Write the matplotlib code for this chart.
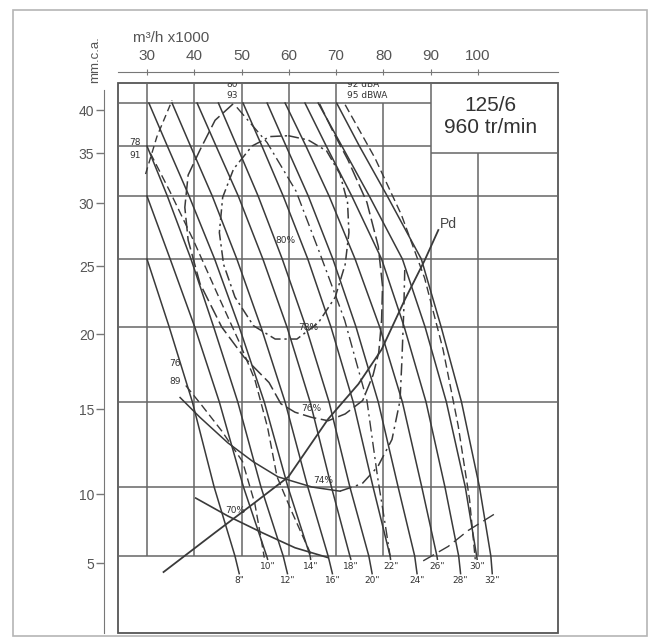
import numpy as np
import matplotlib
matplotlib.use("Agg")
import matplotlib.pyplot as plt
from matplotlib.patches import Rectangle
from matplotlib.ticker import NullLocator

plt.rcParams['font.family'] = ['Liberation Sans', 'DejaVu Sans']

# ---- values ----
# flow in 1000 m3/h, pressure in mm.c.a.
flow_ticks = [30, 40, 50, 60, 70, 80, 90, 100]
press_ticks = [5, 10, 15, 20, 25, 30, 35, 40]

# blade angle curves
blade_labels = ['8"', '10"', '12"', '14"', '16"', '18"', '20"', '22"', '24"', '26"', '28"', '30"', '32"']
blade_q = [
    [30.0, 34.7, 39.6, 44.2, 48.6, 49.5],
    [30.0, 34.9, 40.1, 45.3, 50.4, 55.3, 55.5],
    [30.0, 34.3, 39.3, 44.1, 49.2, 54.1, 58.8, 59.7],
    [30.4, 34.3, 38.9, 44.3, 49.5, 54.8, 59.8, 64.5, 64.6],
    [35.3, 39.2, 43.8, 49.0, 54.1, 59.2, 64.0, 68.3, 69.2],
    [40.6, 44.6, 49.3, 54.5, 59.6, 64.5, 69.0, 72.9, 73.1],
    [45.1, 49.0, 53.5, 58.6, 63.6, 68.5, 72.9, 76.9, 77.6],
    [50.3, 54.3, 58.8, 64.0, 68.9, 73.6, 77.8, 81.4, 81.5],
    [55.4, 59.4, 64.1, 69.3, 74.2, 78.9, 83.1, 86.6, 87.1],
    [59.2, 63.6, 68.5, 74.0, 79.2, 84.0, 88.1, 91.3, 91.4],
    [63.4, 67.9, 73.3, 79.6, 84.4, 89.0, 93.0, 95.9, 96.3],
    [66.2, 71.2, 77.0, 84.0, 88.8, 93.3, 97.3, 99.7, 99.8],
    [70.1, 74.9, 80.8, 88.0, 92.2, 96.5, 100.3, 102.7, 103.0],
]
blade_p = [
    [25, 20, 15, 10, 5, 3.9],
    [30, 25, 20, 15, 10, 5, 4.8],
    [35, 30, 25, 20, 15, 10, 5, 3.9],
    [40, 35, 30, 25, 20, 15, 10, 5, 4.8],
    [40, 35, 30, 25, 20, 15, 10, 5, 3.9],
    [40, 35, 30, 25, 20, 15, 10, 5, 4.8],
    [40, 35, 30, 25, 20, 15, 10, 5, 3.9],
    [40, 35, 30, 25, 20, 15, 10, 5, 4.8],
    [40, 35, 30, 25, 20, 15, 10, 5, 3.9],
    [40, 35, 30, 25, 20, 15, 10, 5, 4.8],
    [40, 35, 30, 25, 20, 15, 10, 5, 3.9],
    [40, 35, 30, 25, 20, 15, 10, 5, 4.8],
    [40, 35, 30, 25, 20, 15, 10, 5, 3.9],
]

# efficiency curves
eff78_q = [59.9, 64.1, 68.0, 70.8, 72.4, 72.7, 71.9, 69.8, 66.2, 61.7, 57.1, 52.5, 48.6, 46.2, 45.3, 46.0, 48.3, 52.2, 56.0, 59.9]
eff78_p = [36.2, 35.7, 34.5, 32.2, 29.5, 27.1, 24.6, 22.2, 20.3, 19.2, 19.2, 20.1, 22.2, 24.6, 27.1, 29.9, 32.7, 35.0, 36.1, 36.2]
eff76_q = [48.2, 44.4, 41.2, 38.7, 38.0, 38.7, 41.2, 45.8, 50.5, 55.8, 58.3, 61.3, 64.8, 68.3, 71.9, 75.6, 77.8, 79.0, 79.6,
           79.8, 78.9, 76.5, 72.5, 69.5, 66.5]
eff76_p = [39.9, 38.0, 34.6, 32.1, 29.1, 26.5, 23.2, 20.0, 18.0, 16.3, 14.9, 14.4, 14.1, 13.9, 14.3, 15.1, 16.8, 18.3, 20.5,
           23.0, 26.0, 29.5, 33.6, 36.5, 39.9]
eff74_q = [37.0, 41.2, 47.1, 52.4, 57.7, 64.9, 70.8, 75.5, 78.8, 81.8, 83.5, 83.9, 84.3, 84.5]
eff74_p = [15.3, 14.1, 12.6, 11.5, 10.6, 10.0, 9.7, 10.2, 11.2, 12.8, 15.1, 17.8, 21.3, 24.2]
eff70_q = [40.3, 47.1, 54.3, 61.3, 68.3]
eff70_p = [9.2, 7.9, 6.7, 5.6, 4.9]

# dynamic pressure
pd_q = [33.5, 44.4, 52.9, 59.9, 68.3, 74.7, 79.6, 84.5, 88.7, 91.6]
pd_p = [4.0, 6.7, 8.9, 10.6, 14.0, 16.2, 18.5, 22.0, 24.9, 27.3]

# noise curves (dB)
n78a_q = [29.7, 32.1, 35.3]
n78a_p = [32.2, 36.1, 40.3]
n78_q = [30.7, 34.8, 39.8, 44.8, 49.5, 52.8, 55.5, 57.5, 60.5, 63.5, 65.0]
n78_p = [34.3, 30.5, 26.5, 22.5, 19.0, 16.5, 13.5, 10.6, 8.3, 6.0, 4.9]
n76_q = [38.2, 41.6, 45.8, 50.2, 52.8, 54.0, 54.8]
n76_p = [16.1, 14.8, 13.3, 11.5, 8.8, 6.5, 4.9]
n80_q = [49.0, 55.4, 61.5, 66.5, 71.8, 76.5, 78.8, 80.5, 81.4]
n80_p = [39.5, 35.4, 30.5, 25.5, 20.5, 15.1, 10.5, 7.0, 5.0]
n92_q = [71.9, 78.2, 83.8, 88.7, 92.6, 95.8, 98.2, 99.4]
n92_p = [39.8, 33.8, 28.5, 23.6, 18.5, 13.6, 9.1, 4.8]
low_q = [88.4, 93.7, 97.9, 101.4, 104.2]
low_p = [4.7, 5.7, 6.85, 7.6, 8.2]

# pressure axis of the sheet is not linear: height of each grid line (px from bottom)
scale_p = [0, 5, 10, 15, 20, 25, 30, 35, 40, 45]
scale_h = [7, 87, 156, 241, 316, 384, 447, 497, 540, 583]


def fwd(v):
    return np.interp(v, scale_p, scale_h)


def inv(u):
    return np.interp(u, scale_h, scale_p)


W, H = 660, 643
fig = plt.figure(figsize=(6.6, 6.43), dpi=100)
ax = fig.add_axes([118 / W, 10 / H, 440 / W, 550 / H])
ax.set_yscale('function', functions=(fwd, inv))
x0, x1 = 23.87, 116.9
y0, y1 = 0.19, 42.33
ax.set_xlim(x0, x1)
ax.set_ylim(y0, y1)
for s in ax.spines.values():
    s.set_visible(False)
ax.set_xticks([])
ax.set_yticks([])

# left pressure axis, printed a few px lower than the grid on the sheet
axl = fig.add_axes([118 / W, 3 / H, 440 / W, 550 / H], frameon=True)
axl.patch.set_visible(False)
axl.set_yscale('function', functions=(fwd, inv))
axl.set_xlim(x0, x1)
axl.set_ylim(y0, y1)
for s in ['top', 'right', 'bottom']:
    axl.spines[s].set_visible(False)
axl.spines['left'].set_position(('outward', 10))
axl.spines['left'].set_color('#777')
axl.spines['left'].set_bounds(0.63, y1)
axl.set_xticks([])
axl.set_yticks(press_ticks)
axl.yaxis.set_minor_locator(NullLocator())
axl.tick_params(axis='y', direction='out', length=6, width=1, colors='#777', labelcolor='#555', labelsize=10, pad=1)

# top flow axis
sec = ax.secondary_xaxis(1 + 11 / 550)
sec.set_xticks(flow_ticks)
sec.tick_params(direction='inout', length=5, colors='#777', labelcolor='#555', labelsize=11, pad=4)
sec.spines['top'].set_color('#777')

# frame and grid
ax.add_patch(Rectangle((0, 0), 1, 1, transform=ax.transAxes, fill=False, ec='#555', lw=1.3, clip_on=False))
grid = dict(color='#666', lw=1.1)
box_bottom = 34.3
ax.vlines([30, 40, 50, 60, 70, 90], 5, y1, **grid)
ax.vlines(80, 5, 40, **grid)
ax.vlines(100, 5, box_bottom, **grid)
ax.hlines([40, 35], x0, 90, **grid)
ax.hlines([30, 25, 20, 15, 10, 5], x0, x1, **grid)
ax.hlines(box_bottom, 90, x1, **grid)

ink = '#3a3a3a'
small = dict(family='DejaVu Sans', fontsize=6.5, color='#333', ha='center', va='center')

for q, p, lab in zip(blade_q, blade_p, blade_labels):
    ax.plot(q, p, color=ink, lw=1.1)
    ax.text(q[-1], 4.35 if p[-1] > 4.5 else 3.45, lab, **small)

ax.plot(eff78_q, eff78_p, color=ink, lw=1.1, ls=(0, (7, 2.5, 1.5, 2.5)))
ax.plot(eff76_q, eff76_p, color=ink, lw=1.1, ls=(0, (9, 3)))
ax.plot(eff74_q[:7], eff74_p[:7], color=ink, lw=1.1)
ax.plot(eff74_q[6:], eff74_p[6:], color=ink, lw=1.1, ls=(0, (8, 3, 1.5, 3)))
ax.plot(eff70_q, eff70_p, color=ink, lw=1.2)
ax.plot(pd_q, pd_p, color=ink, lw=1.3)

for q, p, st in [(n78a_q, n78a_p, (0, (5, 3))), (n78_q, n78_p, (0, (6, 3))), (n76_q, n76_p, (0, (6, 3))),
                 (n80_q, n80_p, (0, (8, 3, 1.5, 3))), (n92_q, n92_p, (0, (6, 3))), (low_q, low_p, (0, (9, 4)))]:
    ax.plot(q, p, color=ink, lw=1.0, ls=st)

# labels inside the chart
for txt, q, p in [('78', 27.5, 35.4), ('91', 27.5, 34.1), ('76', 36.0, 17.6), ('89', 36.0, 16.4),
                  ('80%', 59.2, 26.5), ('78%', 64.1, 20.0), ('76%', 64.8, 14.6), ('74%', 67.3, 10.4),
                  ('70%', 48.6, 8.3)]:
    ax.text(q, p, txt, **small)
ax.text(48.1, 42.2, '80', clip_on=True, **small)
ax.text(48.1, 40.9, '93', **small)
ax.text(72.2, 42.2, '92 dBA', clip_on=True, family='DejaVu Sans', fontsize=6.5, color='#333', ha='left', va='center')
ax.text(72.2, 40.9, '95 dBWA', family='DejaVu Sans', fontsize=6.5, color='#333', ha='left', va='center')
ax.text(93.7, 27.8, 'Pd', fontsize=10, color='#444', ha='center', va='center')
ax.text(102.7, 39.75, '125/6', fontsize=15, color='#333', ha='center', va='center')
ax.text(102.7, 37.1, '960 tr/min', fontsize=15, color='#333', ha='center', va='center')

fig.text(133 / W, 1 - 38 / H, 'm³/h x1000', fontsize=11, color='#555', ha='left', va='center')
fig.text(95 / W, 1 - 60 / H, 'mm.c.a.', fontsize=9.5, color='#555', rotation=90, ha='center', va='center')

# light border round the sheet
fig.add_artist(Rectangle((13 / W, 7 / H), 634 / W, 626 / H, transform=fig.transFigure,
                         fill=False, ec='#b5b5b5', lw=1.2))

fig.savefig('out.png', dpi=100)
